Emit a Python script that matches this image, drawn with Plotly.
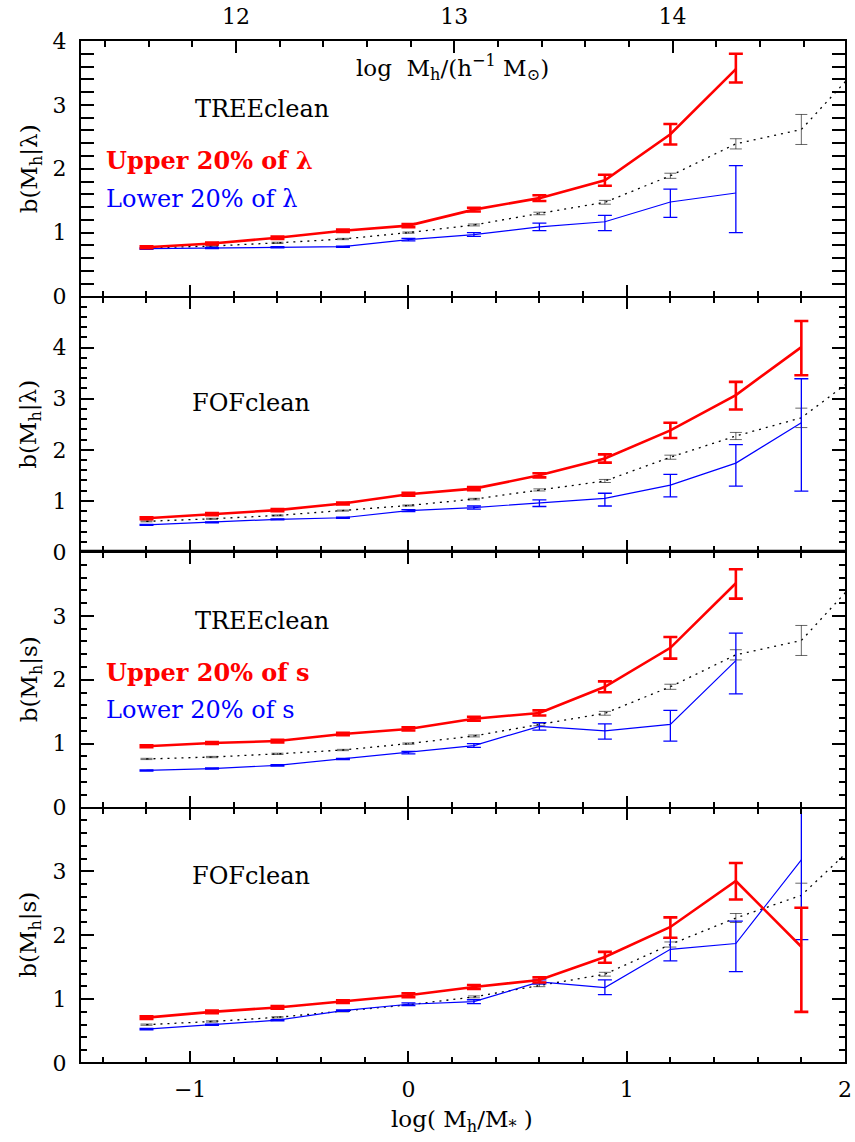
import plotly.graph_objects as go

# ---------------- data ----------------
LOG_M = [-1.2, -0.9, -0.6, -0.3, 0.0, 0.3, 0.6, 0.9, 1.2, 1.5, 1.8, 2.1]
LOG_MSTAR = 12.79  # log M* used for top axis (log Mh in h^-1 Msun)

# full samples (dotted black)
tree_all = [0.76, 0.79, 0.84, 0.90, 1.00, 1.12, 1.30, 1.475, 1.89, 2.39, 2.615, 3.73]
tree_all_err = [0.01, 0.01, 0.01, 0.01, 0.01, 0.015, 0.02, 0.03, 0.04, 0.08, 0.235, 0.45]
fof_all = [0.60, 0.65, 0.715, 0.81, 0.91, 1.035, 1.215, 1.39, 1.855, 2.27, 2.625, 3.59]
fof_all_err = [0.01, 0.01, 0.01, 0.01, 0.01, 0.015, 0.02, 0.03, 0.04, 0.07, 0.19, 0.45]

# TREEclean, spin lambda
tree_lam_up = [0.77, 0.83, 0.92, 1.03, 1.11, 1.36, 1.54, 1.82, 2.54, 3.56]
tree_lam_up_hi = [0.015, 0.015, 0.02, 0.02, 0.025, 0.03, 0.045, 0.085, 0.16, 0.24]
tree_lam_up_lo = [0.015, 0.015, 0.02, 0.02, 0.025, 0.03, 0.045, 0.085, 0.16, 0.21]
tree_lam_lo = [0.75, 0.76, 0.77, 0.78, 0.89, 0.97, 1.09, 1.17, 1.48, 1.62]
tree_lam_lo_hi = [0.01, 0.01, 0.01, 0.01, 0.02, 0.03, 0.06, 0.10, 0.20, 0.43]
tree_lam_lo_lo = [0.01, 0.01, 0.01, 0.01, 0.02, 0.03, 0.06, 0.14, 0.24, 0.62]

# FOFclean, spin lambda
fof_lam_up = [0.66, 0.74, 0.82, 0.95, 1.13, 1.24, 1.50, 1.83, 2.38, 3.07, 4.01]
fof_lam_up_hi = [0.02, 0.02, 0.02, 0.02, 0.03, 0.03, 0.04, 0.08, 0.15, 0.26, 0.51]
fof_lam_up_lo = [0.02, 0.02, 0.02, 0.02, 0.03, 0.03, 0.04, 0.08, 0.15, 0.28, 0.55]
fof_lam_lo = [0.53, 0.58, 0.64, 0.67, 0.81, 0.87, 0.96, 1.05, 1.31, 1.74, 2.53]
fof_lam_lo_hi = [0.01, 0.01, 0.01, 0.01, 0.02, 0.03, 0.06, 0.10, 0.21, 0.36, 0.86]
fof_lam_lo_lo = [0.01, 0.01, 0.01, 0.01, 0.02, 0.03, 0.07, 0.15, 0.23, 0.45, 1.34]

# TREEclean, shape s
tree_s_up = [0.96, 1.01, 1.04, 1.15, 1.23, 1.39, 1.48, 1.89, 2.50, 3.51]
tree_s_up_hi = [0.015, 0.015, 0.02, 0.02, 0.025, 0.03, 0.04, 0.085, 0.17, 0.22]
tree_s_up_lo = [0.015, 0.015, 0.02, 0.02, 0.025, 0.03, 0.04, 0.085, 0.17, 0.24]
tree_s_lo = [0.58, 0.61, 0.66, 0.76, 0.86, 0.97, 1.27, 1.20, 1.30, 2.30]
tree_s_lo_hi = [0.01, 0.01, 0.01, 0.01, 0.02, 0.03, 0.06, 0.11, 0.22, 0.43]
tree_s_lo_lo = [0.01, 0.01, 0.01, 0.01, 0.02, 0.03, 0.06, 0.13, 0.26, 0.52]

# FOFclean, shape s
fof_s_up = [0.71, 0.80, 0.87, 0.96, 1.06, 1.19, 1.30, 1.66, 2.13, 2.85, 1.82]
fof_s_up_hi = [0.02, 0.02, 0.02, 0.02, 0.03, 0.03, 0.04, 0.08, 0.15, 0.28, 0.61]
fof_s_up_lo = [0.02, 0.02, 0.02, 0.02, 0.03, 0.03, 0.04, 0.09, 0.17, 0.29, 1.02]
fof_s_lo = [0.53, 0.60, 0.67, 0.82, 0.92, 0.96, 1.27, 1.18, 1.78, 1.87, 3.18]
fof_s_lo_hi = [0.01, 0.01, 0.01, 0.01, 0.02, 0.03, 0.03, 0.12, 0.17, 0.35, 1.25]
fof_s_lo_lo = [0.01, 0.01, 0.01, 0.01, 0.02, 0.03, 0.03, 0.11, 0.18, 0.44, 1.25]

Y_RANGES = [[0, 4], [0, 5], [0, 4], [0, 4]]
Y_TICKS = [[0, 1, 2, 3, 4], [0, 1, 2, 3, 4], [0, 1, 2, 3], [0, 1, 2, 3]]
Y_TITLES = ["b(M<sub>h</sub>|λ)", "b(M<sub>h</sub>|λ)", "b(M<sub>h</sub>|s)", "b(M<sub>h</sub>|s)"]
TOP_TICKS = [12, 13, 14]

panels = [
    (tree_all, tree_all_err, tree_lam_up, tree_lam_up_hi, tree_lam_up_lo,
     tree_lam_lo, tree_lam_lo_hi, tree_lam_lo_lo),
    (fof_all, fof_all_err, fof_lam_up, fof_lam_up_hi, fof_lam_up_lo,
     fof_lam_lo, fof_lam_lo_hi, fof_lam_lo_lo),
    (tree_all, tree_all_err, tree_s_up, tree_s_up_hi, tree_s_up_lo,
     tree_s_lo, tree_s_lo_hi, tree_s_lo_lo),
    (fof_all, fof_all_err, fof_s_up, fof_s_up_hi, fof_s_up_lo,
     fof_s_lo, fof_s_lo_hi, fof_s_lo_lo),
]

FONT = "DejaVu Serif"
RED = "#ff0000"
BLUE = "#0000ff"

fig = go.Figure()

for i, (a, ae, up, uph, upl, lo, loh, lol) in enumerate(panels):
    xa = "x" if i == 0 else f"x{i+1}"
    ya = "y" if i == 0 else f"y{i+1}"
    fig.add_trace(go.Scatter(
        x=LOG_M[:len(a)], y=a, mode="lines", xaxis=xa, yaxis=ya,
        line=dict(color="black", width=1.3, dash="2px,5px"),
        error_y=dict(type="data", array=ae, color="rgba(0,0,0,0.6)",
                     thickness=1, width=6),
        showlegend=False, hoverinfo="skip"))
    fig.add_trace(go.Scatter(
        x=LOG_M[:len(lo)], y=lo, mode="lines", xaxis=xa, yaxis=ya,
        line=dict(color=BLUE, width=1.2),
        error_y=dict(type="data", symmetric=False, array=loh, arrayminus=lol,
                     color=BLUE, thickness=1.3, width=7),
        showlegend=False))
    fig.add_trace(go.Scatter(
        x=LOG_M[:len(up)], y=up, mode="lines", xaxis=xa, yaxis=ya,
        line=dict(color=RED, width=2.6),
        error_y=dict(type="data", symmetric=False, array=uph, arrayminus=upl,
                     color=RED, thickness=2.6, width=7),
        showlegend=False))

# top-axis helper trace (invisible) so the log Mh axis is drawn
fig.add_trace(go.Scatter(x=[LOG_M[0] + LOG_MSTAR], y=[None], xaxis="x5", yaxis="y",
                         mode="markers", showlegend=False, hoverinfo="skip"))

bounds = [(0.75, 1.0), (0.5, 0.75), (0.25, 0.5), (0.0, 0.25)]
tickfont = dict(family=FONT, size=22, color="black")
layout = dict(
    width=855, height=1142, autosize=False,
    margin=dict(l=81, r=10, t=41, b=79, pad=0, autoexpand=False),
    plot_bgcolor="white", paper_bgcolor="white",
    font=dict(family=FONT, size=22, color="black"),
    annotations=[], shapes=[],
)

for i in range(4):
    xk = "xaxis" if i == 0 else f"xaxis{i+1}"
    yk = "yaxis" if i == 0 else f"yaxis{i+1}"
    yref = "y" if i == 0 else f"y{i+1}"
    layout[xk] = dict(
        domain=[0, 1], anchor=yref, range=[-1.5, 2], automargin=False,
        tickmode="array", tickvals=[-1, 0, 1, 2], ticktext=["−1", "0", "1", "2"],
        ticks="inside", ticklen=12, tickwidth=1.5, tickcolor="black",
        minor=dict(ticks="inside", ticklen=6, tickwidth=1.5, tickcolor="black",
                   tickmode="linear", tick0=0, dtick=0.2, showgrid=False),
        showline=True, linewidth=1, linecolor="black",
        mirror=False if i == 0 else "allticks",
        showgrid=False, zeroline=False,
        showticklabels=(i == 3), tickfont=tickfont,
        ticklabelstandoff=7,
    )
    if i > 0:
        layout[xk]["matches"] = "x"
    layout[yk] = dict(
        domain=list(bounds[i]), anchor="x" if i == 0 else f"x{i+1}",
        range=Y_RANGES[i], tickmode="array", tickvals=Y_TICKS[i], automargin=False,
        ticks="inside", ticklen=13, tickwidth=1.5, tickcolor="black",
        minor=dict(ticks="inside", ticklen=6, tickwidth=1.5, tickcolor="black",
                   tickmode="linear", tick0=0, dtick=0.2, showgrid=False),
        showline=True, linewidth=2, linecolor="black", mirror="allticks",
        showgrid=False, zeroline=False, tickfont=tickfont,
        ticklabelstandoff=8,
    )
    layout["annotations"].append(dict(
        text=Y_TITLES[i], textangle=-90, xref="paper", yref=f"{yref} domain",
        x=-0.066, y=0.5, xanchor="center", yanchor="middle", showarrow=False,
        font=dict(family=FONT, size=23, color="black")))

layout["xaxis5"] = dict(
    overlaying="x", side="top", anchor="y", automargin=False,
    range=[-1.5 + LOG_MSTAR, 2 + LOG_MSTAR],
    tickmode="array", tickvals=TOP_TICKS,
    ticks="inside", ticklen=12, tickwidth=1.5, tickcolor="black",
    minor=dict(ticks="inside", ticklen=6, tickwidth=1.5, tickcolor="black",
               tickmode="linear", tick0=0, dtick=0.2, showgrid=False),
    showline=True, linewidth=2, linecolor="black",
    showgrid=False, zeroline=False, tickfont=tickfont, ticklabelstandoff=6,
)

# thick separator between the lambda and s blocks, and outer bottom frame
layout["shapes"].append(dict(type="line", xref="x2 domain", yref="y2",
                             x0=0, x1=1, y0=0, y1=0,
                             line=dict(color="black", width=4.5), layer="above"))
layout["shapes"].append(dict(type="line", xref="x4 domain", yref="y4",
                             x0=0, x1=1, y0=0, y1=0,
                             line=dict(color="black", width=2), layer="above"))

def ann(text, x, y, xr, yr, color="black", bold=False, anchor="center", size=24):
    layout["annotations"].append(dict(
        text=f"<b>{text}</b>" if bold else text, x=x, y=y, xref=xr, yref=yr,
        xanchor=anchor, yanchor="middle", showarrow=False,
        font=dict(family=FONT, size=size, color=color)))

ann("log  M<sub>h</sub>/(h<sup>−1</sup> M<sub>⊙</sub>)", 0.2, 3.58, "x", "y", size=23)
ann("TREEclean", -0.67, 2.93, "x", "y")
ann("Upper 20% of λ", -1.395, 2.13, "x", "y", color=RED, bold=True, anchor="left")
ann("Lower 20% of λ", -1.395, 1.52, "x", "y", color=BLUE, anchor="left")
ann("FOFclean", -0.72, 2.92, "x2", "y2")
ann("TREEclean", -0.67, 2.92, "x3", "y3")
ann("Upper 20% of s", -1.395, 2.11, "x3", "y3", color=RED, bold=True, anchor="left")
ann("Lower 20% of s", -1.395, 1.52, "x3", "y3", color=BLUE, anchor="left")
ann("FOFclean", -0.72, 2.92, "x4", "y4")
layout["annotations"].append(dict(
    text="log( M<sub>h</sub>/M<sub>*</sub> )", xref="paper", yref="paper",
    x=(462 - 81) / 764, y=-(1121 - 1063) / 1022, xanchor="center", yanchor="middle",
    showarrow=False, font=dict(family=FONT, size=23, color="black")))

fig.update_layout(**layout)
fig.write_html("out.html")
